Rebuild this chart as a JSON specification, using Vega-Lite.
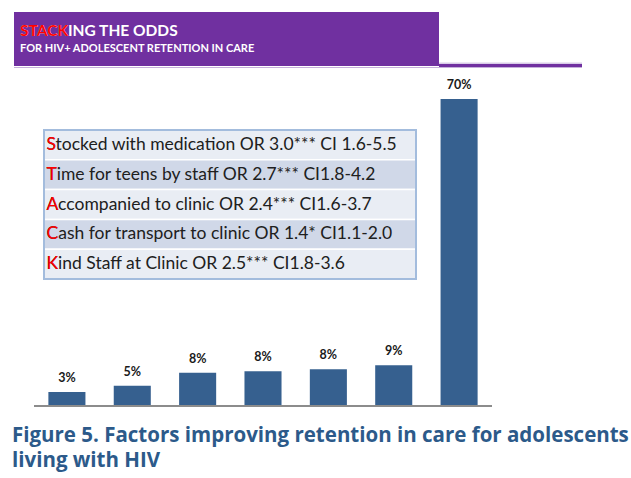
{
  "$schema": "https://vega.github.io/schema/vega-lite/v6.json",
  "width": 458,
  "height": 307,
  "autosize": "none",
  "padding": {"left": 34, "top": 99, "right": 139, "bottom": 72},
  "background": "white",
  "config": {"view": {"stroke": null}, "font": "Lato"},
  "title": {
    "text": ["Figure 5. Factors improving retention in care for adolescents", "living with HIV"],
    "orient": "bottom",
    "anchor": "start",
    "frame": "group",
    "dx": -22,
    "offset": 35,
    "font": "Open Sans",
    "fontSize": 20.5,
    "fontWeight": "bold",
    "color": "#2C5A8A",
    "lineHeight": 25,
    "baseline": "alphabetic"
  },
  "layer": [
    {
      "data": {"values": [
        {"group": "1", "share": 0.032},
        {"group": "2", "share": 0.046},
        {"group": "3", "share": 0.076},
        {"group": "4", "share": 0.079},
        {"group": "5", "share": 0.084},
        {"group": "6", "share": 0.093},
        {"group": "7", "share": 0.70}
      ]},
      "encoding": {
        "x": {"field": "group", "type": "nominal", "sort": null,
              "scale": {"paddingInner": 0.433, "paddingOuter": 0.22},
              "axis": null},
        "y": {"field": "share", "type": "quantitative", "scale": {"domain": [0, 0.7], "nice": false}, "axis": null}
      },
      "layer": [
        {"mark": {"type": "bar", "color": "#36608F"}},
        {"mark": {"type": "text", "baseline": "bottom", "dy": -7, "fontWeight": "bold", "fontSize": 12.5, "color": "#1A1A1A", "font": "Lato"},
         "encoding": {"text": {"field": "share", "type": "quantitative", "format": ".0%"}}},
        {"mark": {"type": "rule", "color": "#8C8C8C", "strokeWidth": 1.5},
         "encoding": {"x": null, "y": {"datum": 0}, "text": null}}
      ]
    },
    {
      "data": {"values": [
        {"row": 1, "initial": "S", "label": "Stocked with medication OR 3.0*** CI 1.6-5.5"},
        {"row": 2, "initial": "T", "label": "Time for teens by staff OR 2.7*** CI1.8-4.2"},
        {"row": 3, "initial": "A", "label": "Accompanied to clinic OR 2.4*** CI1.6-3.7"},
        {"row": 4, "initial": "C", "label": "Cash for transport to clinic OR 1.4* CI1.1-2.0"},
        {"row": 5, "initial": "K", "label": "Kind Staff at Clinic OR 2.5*** CI1.8-3.6"}
      ]},
      "layer": [
        {
          "encoding": {
            "x": {"datum": 0, "type": "quantitative", "scale": {"domain": [0, 1], "range": [10, 382], "nice": false}, "axis": null},
            "y": {"field": "row", "type": "ordinal", "scale": {"range": [31, 180], "paddingInner": 0, "paddingOuter": 0}, "axis": null}
          },
          "layer": [
            {"mark": {"type": "rect", "stroke": "white", "strokeWidth": 1.5},
             "encoding": {
               "x2": {"datum": 1},
               "fill": {"field": "row", "type": "ordinal", "scale": {"range": ["#E9EDF4", "#D0D8E8", "#E9EDF4", "#D0D8E8", "#E9EDF4"]}, "legend": null}
             }},
            {"mark": {"type": "text", "align": "left", "baseline": "middle", "dx": 2.5, "fontSize": 17.5, "color": "#202020", "font": "Lato"},
             "encoding": {"text": {"field": "label"}}},
            {"mark": {"type": "text", "align": "left", "baseline": "middle", "dx": 2.5, "fontSize": 17.5, "color": "#FF0000", "font": "Lato"},
             "encoding": {"text": {"field": "initial"}}}
          ]
        },
        {
          "data": {"values": [{"piece": "frame"}]},
          "mark": {"type": "rect", "fill": null, "stroke": "#A3BCDD", "strokeWidth": 2},
          "encoding": {
            "x": {"datum": 0, "type": "quantitative"},
            "x2": {"datum": 1},
            "y": {"datum": 0, "type": "quantitative", "scale": {"domain": [0, 1], "range": [31, 180], "nice": false}, "axis": null},
            "y2": {"datum": 1}
          }
        }
      ],
      "resolve": {"scale": {"y": "independent"}}
    },
    {
      "data": {"values": [
        {"kind": "title", "text": "STACKING THE ODDS", "accent": "STACK"},
        {"kind": "subtitle", "text": "FOR HIV+ ADOLESCENT RETENTION IN CARE", "accent": ""}
      ]},
      "encoding": {
        "x": {"datum": 0, "type": "quantitative", "scale": {"domain": [0, 568], "range": [-20, 548], "nice": false, "zero": false}, "axis": null},
        "y": {"datum": 0, "type": "quantitative", "scale": {"domain": [0, 56], "range": [-87, -31], "nice": false, "zero": false}, "axis": null}
      },
      "layer": [
        {"data": {"values": [{"piece": "block"}]}, "mark": {"type": "rect", "color": "#7030A0"},
         "encoding": {"x2": {"datum": 425}, "y2": {"datum": 54}}},
        {"data": {"values": [{"piece": "tail"}]}, "mark": {"type": "rect", "color": "#D9CCE8"},
         "encoding": {"x": {"datum": 425}, "x2": {"datum": 568}, "y": {"datum": 50.6}, "y2": {"datum": 52}}},
        {"data": {"values": [{"piece": "tail"}]}, "mark": {"type": "rect", "color": "#7030A0"},
         "encoding": {"x": {"datum": 425}, "x2": {"datum": 568}, "y": {"datum": 52}, "y2": {"datum": 55}}},
        {"data": {"values": [{"piece": "underline"}]}, "mark": {"type": "rect", "color": "#C5B0DA"},
         "encoding": {"x": {"datum": 0}, "x2": {"datum": 568}, "y": {"datum": 55}, "y2": {"datum": 56}}},
        {"transform": [{"filter": "datum.kind == 'title'"}],
         "mark": {"type": "text", "align": "left", "baseline": "alphabetic", "fontSize": 15.5, "fontWeight": "bold", "color": "white", "font": "Lato"},
         "encoding": {"x": {"datum": 6}, "y": {"datum": 23.5}, "text": {"field": "text"}}},
        {"transform": [{"filter": "datum.kind == 'title'"}],
         "mark": {"type": "text", "align": "left", "baseline": "alphabetic", "fontSize": 15.5, "fontWeight": "bold", "color": "#FF0000", "font": "Lato"},
         "encoding": {"x": {"datum": 6}, "y": {"datum": 23.5}, "text": {"field": "accent"}}},
        {"transform": [{"filter": "datum.kind == 'subtitle'"}],
         "mark": {"type": "text", "align": "left", "baseline": "alphabetic", "fontSize": 11, "fontWeight": "bold", "color": "white", "font": "Lato"},
         "encoding": {"x": {"datum": 6}, "y": {"datum": 40}, "text": {"field": "text"}}}
      ]
    }
  ],
  "resolve": {"scale": {"x": "independent", "y": "independent", "fill": "independent", "color": "independent"}}
}
